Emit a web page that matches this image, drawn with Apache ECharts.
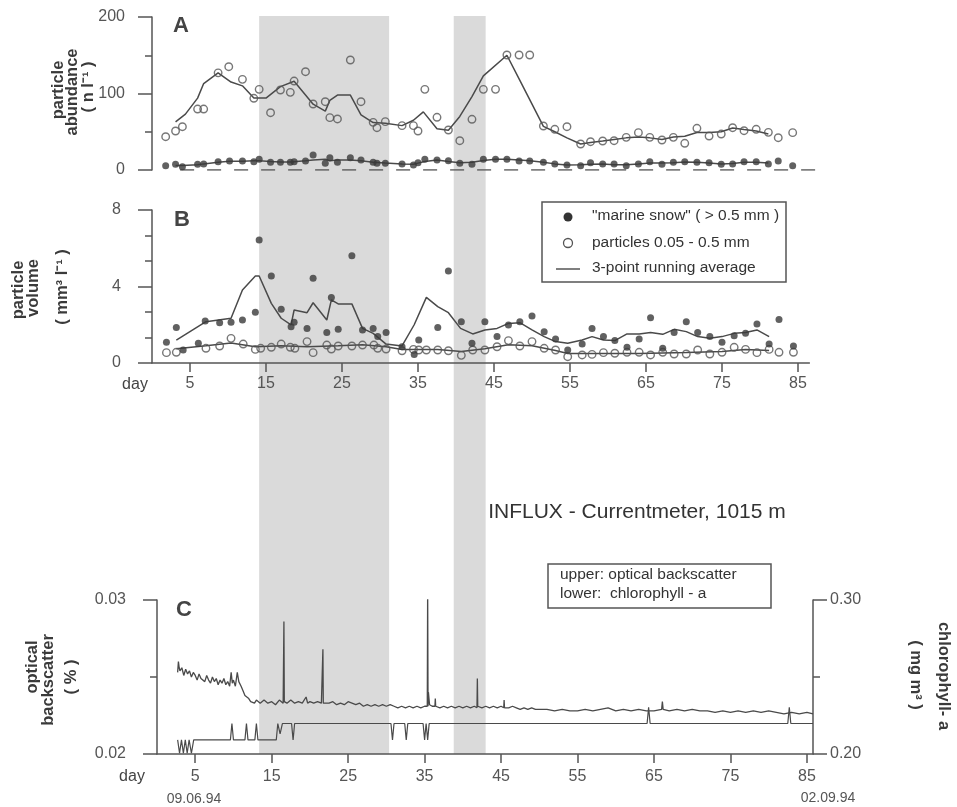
<!DOCTYPE html>
<html>
<head>
<meta charset="utf-8">
<script src="https://cdn.jsdelivr.net/npm/echarts@6/dist/echarts.min.js"></script>
<style>
html,body{margin:0;padding:0;background:#fff;}
#chart{width:957px;height:807px;}
</style>
</head>
<body>
<div id="chart"></div>
<script>
// ---------- DATA ----------
const xTickDays = [5, 15, 25, 35, 45, 55, 65, 75, 85];
const shadedPeriods = [[14.1, 31.2], [39.7, 43.9]];
const zeroLine = [[3.7, 0], [87.9, 0]];

// Panel A: particle abundance (n l-1)
const aParticles = [[1.8,43.5],[3.1,51],[4.0,56.6],[6.0,79.7],[6.8,79.7],[8.7,127],[10.1,135],[11.9,118.5],[13.4,93.7],[14.1,105.4],[15.6,74.9],[16.9,104.6],[18.2,101.5],[18.7,116.3],[20.2,128.5],[21.2,86.3],[22.8,89.3],[23.4,68.4],[24.4,66.7],[26.1,143.8],[27.5,89.3],[29.1,62.3],[29.6,55.3],[30.7,63.2],[32.9,58],[34.4,58],[35.0,51],[35.9,105.4],[37.5,68.9],[39.0,52.3],[40.5,38.3],[42.1,66.3],[43.6,105.4],[45.2,105.4],[46.7,150.3],[48.3,150.3],[49.7,150.3],[51.5,57.5],[53.0,53.2],[54.6,56.6],[56.4,34],[57.7,37],[59.3,37.9],[60.8,38.3],[62.4,42.7],[64.0,48.8],[65.5,42.7],[67.1,39.2],[68.6,42.7],[70.1,34.9],[71.7,54.5],[73.3,44.4],[74.9,47],[76.4,55.3],[77.9,51.4],[79.5,53.2],[81.1,49.2],[82.4,42.2],[84.3,48.8]];
const aSnow = [[1.8,5.7],[3.1,7.4],[4.0,4.4],[6.0,7.4],[6.8,7.8],[8.7,10.9],[10.2,11.8],[11.9,11.8],[13.4,10.9],[14.1,13.9],[15.6,10],[16.9,10],[18.2,10],[18.7,10.9],[20.2,11.8],[21.2,19.6],[22.8,8.7],[23.4,16],[24.4,10],[26.1,16],[27.5,13],[29.1,10],[29.6,8.7],[30.7,8.7],[32.9,7.8],[34.4,6.5],[35.0,9.6],[35.9,13.9],[37.5,13],[39.0,12.2],[40.5,8.7],[42.1,7.4],[43.6,13.9],[45.2,13.9],[46.7,13.9],[48.3,11.8],[49.7,11.8],[51.5,10],[53.0,7.8],[54.6,6.5],[56.4,5.7],[57.7,9.6],[59.3,7.8],[60.8,7.8],[62.4,5.7],[64.0,7.8],[65.5,10.9],[67.1,7.4],[68.6,10],[70.1,10.9],[71.7,10],[73.3,9.6],[74.9,7.4],[76.4,7.8],[77.9,10.9],[79.5,10.9],[81.1,7.8],[82.4,11.8],[84.3,5.7]];
const aParticlesAvg = [[3.1,63],[4.4,73],[6.0,94],[6.8,113],[8.7,127],[10.4,115],[11.9,110],[13.4,94],[15.0,94],[16.9,109],[18.7,116],[20.2,98],[21.2,86],[22.8,77],[23.4,91],[24.4,98],[26.1,98],[27.5,72],[29.1,62],[30.7,61],[32.9,58],[34.4,65],[35.7,76],[37.5,54],[39.0,52],[40.5,70],[42.1,96],[43.6,123],[46.7,150],[48.3,119],[49.7,92],[51.5,57],[53.0,50],[54.6,42],[56.4,34],[57.7,36],[59.3,38],[60.8,40],[62.4,42],[64.0,43],[65.5,42],[67.1,40],[68.6,43],[70.1,44],[71.7,49],[73.3,49],[74.9,50],[76.4,55],[77.9,53],[79.5,51],[81.1,47]];
const aSnowAvg = [[3.1,6],[4.0,6],[6.0,7],[6.8,8],[8.7,10],[10.2,11.5],[11.9,11.5],[13.4,12],[14.1,12],[15.6,11],[16.9,10.5],[18.2,10.5],[20.2,12],[21.2,13],[22.8,14],[23.4,12],[24.4,13],[26.1,13],[27.5,12],[29.1,10],[30.7,9],[32.9,8],[34.4,7.5],[35.0,9],[35.9,11],[37.5,13],[39.0,11],[40.5,9.5],[42.1,10],[43.6,12.5],[45.2,14],[46.7,14],[48.3,13],[49.7,12],[51.5,10],[53.0,8],[54.6,6.5],[56.4,7],[57.7,7.5],[59.3,8],[60.8,7],[62.4,7],[64.0,8],[65.5,9],[67.1,9],[68.6,9.5],[70.1,10.5],[71.7,10],[73.3,9],[74.9,8],[76.4,8.5],[77.9,10],[79.5,10],[81.1,9]];

// Panel B: particle volume (mm3 l-1)
const bSnow = [[1.9,1.08],[3.2,1.86],[4.1,0.68],[6.1,1.03],[7.0,2.2],[8.9,2.11],[10.4,2.13],[11.9,2.25],[13.6,2.65],[14.1,6.43],[15.7,4.55],[17.0,2.81],[18.3,1.9],[18.7,2.13],[20.4,1.81],[21.2,4.43],[23.0,1.6],[23.6,3.43],[24.5,1.76],[26.3,5.61],[27.7,1.73],[29.1,1.81],[29.7,1.38],[30.8,1.6],[32.9,0.85],[34.5,0.45],[35.1,1.2],[37.6,1.86],[39.0,4.81],[40.7,2.16],[42.1,1.03],[43.8,2.16],[45.4,1.38],[46.9,1.99],[48.4,2.16],[50.0,2.46],[51.6,1.64],[53.1,1.25],[54.7,0.68],[56.6,0.99],[57.9,1.81],[59.4,1.38],[60.9,1.17],[62.5,0.82],[64.1,1.25],[65.6,2.37],[67.2,0.77],[68.7,1.6],[70.3,2.16],[71.8,1.6],[73.4,1.38],[75.0,1.08],[76.6,1.43],[78.1,1.55],[79.6,2.04],[81.2,0.99],[82.5,2.28],[84.4,0.89]];
const bParticles = [[1.9,0.54],[3.2,0.56],[7.1,0.77],[8.9,0.89],[10.4,1.29],[12.0,0.99],[13.6,0.71],[14.3,0.77],[15.7,0.82],[17.0,0.99],[18.2,0.82],[18.8,0.77],[20.4,1.12],[21.2,0.54],[23.0,0.94],[23.6,0.73],[24.5,0.89],[26.3,0.89],[27.7,0.94],[29.2,0.94],[29.7,0.77],[30.8,0.73],[32.9,0.64],[34.4,0.71],[35.1,0.68],[36.1,0.68],[37.6,0.68],[39.0,0.64],[40.7,0.4],[42.2,0.68],[43.8,0.68],[45.4,0.85],[46.9,1.17],[48.4,0.89],[50.0,1.12],[51.6,0.77],[53.1,0.68],[54.7,0.33],[56.6,0.42],[57.9,0.45],[59.4,0.54],[60.9,0.51],[62.5,0.56],[64.1,0.56],[65.6,0.42],[67.2,0.56],[68.7,0.47],[70.3,0.47],[71.8,0.68],[73.4,0.47],[75.0,0.56],[76.6,0.82],[78.1,0.71],[79.6,0.54],[81.2,0.71],[82.5,0.56],[84.4,0.56]];
const bSnowAvg = [[3.2,1.2],[7.1,2.16],[10.4,2.34],[11.9,3.82],[13.6,4.55],[14.1,4.55],[15.7,3.12],[17.0,2.34],[18.3,1.99],[18.7,2.77],[20.4,2.63],[21.2,3.15],[23.0,2.25],[23.6,3.3],[24.5,3.09],[26.3,3.09],[27.7,1.81],[29.1,1.55],[30.8,0.99],[32.9,0.89],[34.5,2.0],[36.1,3.43],[37.6,2.95],[39.0,2.63],[40.6,1.81],[42.2,1.52],[43.8,1.73],[45.4,1.81],[46.9,2.07],[48.4,2.11],[50.0,1.73],[51.6,1.38],[53.1,1.12],[54.7,1.03],[56.6,1.2],[57.9,1.38],[59.4,1.2],[60.9,1.17],[62.5,1.52],[64.1,1.52],[65.6,1.59],[67.2,1.5],[68.7,1.76],[70.3,1.64],[71.8,1.38],[73.4,1.29],[75.0,1.38],[76.6,1.55],[78.1,1.59],[79.6,1.73],[81.2,1.38]];
const bParticlesAvg = [[3.2,0.75],[7.1,0.9],[10.4,1.05],[13.6,0.85],[17.0,0.9],[20.4,0.85],[24.5,0.9],[27.7,0.95],[30.8,0.85],[32.9,0.7],[37.6,0.7],[40.7,0.6],[43.8,0.75],[46.9,0.95],[50.0,0.9],[53.1,0.65],[54.7,0.5],[59.4,0.5],[64.1,0.5],[70.3,0.55],[75.0,0.6],[78.1,0.7],[81.2,0.65]];

// Panel C: optical backscatter (%) and chlorophyll-a (mg m3)
const backscatter = [[2.7,0.0253],[2.8,0.0260],[2.9,0.0256],[3.0,0.0254],[3.25,0.0256],[3.5,0.0251],[3.75,0.0255],[4.0,0.0252],[4.25,0.0254],[4.5,0.0250],[4.75,0.0253],[5.0,0.0251],[5.25,0.0248],[5.5,0.0252],[5.75,0.0249],[6.0,0.0250],[6.25,0.0247],[6.5,0.0251],[6.75,0.0248],[7.0,0.0246],[7.25,0.0250],[7.5,0.0247],[7.75,0.0249],[8.0,0.0245],[8.25,0.0248],[8.5,0.0246],[8.75,0.0249],[9.0,0.0245],[9.25,0.0247],[9.5,0.0244],[9.7,0.0253],[9.85,0.0246],[10.0,0.0248],[10.25,0.0244],[10.5,0.0253],[10.7,0.0247],[11.0,0.0244],[11.25,0.0241],[11.5,0.0238],[11.75,0.0237],[12.0,0.0236],[12.25,0.0234],[12.5,0.0235],[12.75,0.0233],[13.0,0.0235],[13.5,0.0233],[14.0,0.0235],[14.5,0.0233],[15.0,0.0234],[15.5,0.0232],[16.0,0.0235],[16.5,0.0233],[16.55,0.0234],[16.6,0.0286],[16.65,0.0234],[17.0,0.0233],[17.5,0.0235],[18.0,0.0233],[18.5,0.0234],[19.0,0.0233],[19.5,0.0237],[19.7,0.0233],[20.0,0.0234],[20.5,0.0233],[21.0,0.0234],[21.5,0.0233],[21.65,0.0233],[21.7,0.0268],[21.75,0.0233],[22.0,0.0234],[22.5,0.0233],[23.0,0.0234],[23.5,0.0232],[24.0,0.0233],[24.5,0.0232],[25.0,0.0234],[25.5,0.0233],[26.0,0.0232],[26.5,0.0233],[27.0,0.0231],[27.5,0.0232],[28.0,0.0231],[28.5,0.0232],[29.0,0.0231],[29.5,0.0232],[30.0,0.0231],[30.5,0.0232],[31.0,0.0231],[31.5,0.0230],[32.0,0.0231],[32.5,0.0230],[33.0,0.0231],[33.5,0.0230],[34.0,0.0231],[34.5,0.0230],[35.0,0.0231],[35.35,0.0231],[35.4,0.0308],[35.45,0.0231],[35.5,0.0240],[35.65,0.0232],[36.0,0.0231],[36.35,0.0231],[36.4,0.0236],[36.45,0.0231],[37.0,0.0230],[37.5,0.0231],[38.0,0.0230],[38.5,0.0231],[39.0,0.0230],[39.5,0.0231],[40.0,0.0230],[40.5,0.0231],[41.0,0.0230],[41.5,0.0231],[41.85,0.0230],[41.9,0.0249],[41.95,0.0231],[42.5,0.0230],[43.0,0.0231],[43.5,0.0230],[44.0,0.0231],[44.5,0.0230],[45.0,0.0231],[45.35,0.0230],[45.4,0.0235],[45.45,0.0230],[46.0,0.0230],[46.5,0.0231],[47.0,0.0230],[47.5,0.0229],[48.0,0.0230],[48.5,0.0229],[49.0,0.0230],[49.5,0.0229],[50.0,0.0229],[51.0,0.0229],[52.0,0.0228],[53.0,0.0229],[54.0,0.0228],[55.0,0.0228],[56.0,0.0229],[57.0,0.0228],[58.0,0.0229],[59.0,0.0230],[60.0,0.0228],[61.0,0.0229],[62.0,0.0228],[63.0,0.0229],[64.0,0.0228],[65.0,0.0228],[66.0,0.0229],[66.1,0.0234],[66.2,0.0229],[67.0,0.0228],[68.0,0.0229],[69.0,0.0228],[70.0,0.0229],[71.0,0.0228],[72.0,0.0228],[73.0,0.0227],[74.0,0.0228],[75.0,0.0227],[76.0,0.0228],[77.0,0.0227],[78.0,0.0228],[79.0,0.0227],[80.0,0.0228],[81.0,0.0227],[82.0,0.0226],[83.0,0.0227],[84.0,0.0226],[85.0,0.0227],[85.8,0.0226]];
const chlorophyll = [[2.7,0.2092],[2.95,0.2005],[3.2,0.2092],[3.45,0.2005],[3.7,0.2092],[3.95,0.2005],[4.2,0.2092],[4.5,0.2005],[4.8,0.2092],[9.6,0.2092],[9.8,0.2198],[10.0,0.2092],[11.5,0.2092],[11.7,0.2198],[11.9,0.2092],[12.8,0.2092],[13.0,0.2198],[13.2,0.2092],[15.6,0.2092],[15.8,0.2198],[16.1,0.2130],[16.4,0.2198],[17.6,0.2198],[17.8,0.2092],[18.0,0.2198],[30.6,0.2198],[30.8,0.2092],[31.0,0.2198],[32.4,0.2198],[32.6,0.2092],[32.8,0.2198],[34.8,0.2198],[35.0,0.2092],[35.2,0.2198],[35.4,0.2092],[35.6,0.2198],[64.1,0.2198],[64.3,0.2303],[64.5,0.2198],[82.5,0.2198],[82.7,0.2303],[82.9,0.2198],[85.8,0.2198]];

// ---------- CHART ----------
const FONT = "'Liberation Sans', Arial, sans-serif";
const AX = '#555';
const chart = echarts.init(document.getElementById('chart'), null, {renderer: 'canvas'});

function yAx(gi, min, max, interval, split, margin, extra) {
  return Object.assign({
    gridIndex: gi, type: 'value', min: min, max: max, interval: interval, z: 3,
    axisLine: {show: true, onZero: false, lineStyle: {color: AX, width: 1.5}},
    axisTick: {show: true, inside: false, length: 14, lineStyle: {color: AX, width: 1.5}},
    minorTick: {show: true, splitNumber: split, length: 7, lineStyle: {color: AX, width: 1.5}},
    axisLabel: {margin: margin, fontSize: 16, color: AX, fontFamily: FONT},
    splitLine: {show: false}, minorSplitLine: {show: false}
  }, extra || {});
}
function xAx(gi, max, visible, margin) {
  return {
    gridIndex: gi, type: 'value', min: 0, max: max, z: 3,
    axisLine: {show: visible, onZero: false, lineStyle: {color: AX, width: 1.5}},
    axisTick: {show: visible, customValues: xTickDays, length: 9, lineStyle: {color: AX, width: 1.5}},
    axisLabel: {show: visible, customValues: xTickDays, margin: margin, fontSize: 16, color: AX, fontFamily: FONT},
    splitLine: {show: false}
  };
}
const line = (name, xi, yi, data, w) => ({
  name: name, type: 'line', xAxisIndex: xi, yAxisIndex: yi, data: data, showSymbol: false, symbol: 'none',
  lineStyle: {color: '#4a4a4a', width: w || 1.5}, z: 4, silent: true, animation: false
});
const dots = (xi, yi, data) => ({
  type: 'scatter', xAxisIndex: xi, yAxisIndex: yi, data: data, symbol: 'circle', symbolSize: 7,
  itemStyle: {color: '#3a3a3a'}, z: 5, silent: true, animation: false
});
const rings = (xi, yi, data) => ({
  type: 'scatter', xAxisIndex: xi, yAxisIndex: yi, data: data, symbol: 'circle', symbolSize: 7.5,
  itemStyle: {color: 'rgba(0,0,0,0)', borderColor: '#555', borderWidth: 1.4}, z: 5, silent: true, animation: false
});

const txt = (text, x, y, opt) => ({
  type: 'text', x: x, y: y, z: 20, rotation: (opt && opt.rot) || 0,
  style: Object.assign({text: text, fill: '#444', font: '15px ' + FONT, align: 'center', verticalAlign: 'middle'}, (opt && opt.style) || {})
});
const rot = Math.PI / 2;
const bold16 = {font: 'bold 16.5px ' + FONT, fill: '#3a3a3a'};
const legFont = {font: '15.5px ' + FONT, fill: '#333', align: 'left'};

const option = {
  animation: false,
  backgroundColor: '#fff',
  grid: [
    {left: 152, top: 17, width: 668.8, height: 153},
    {left: 152, top: 210, width: 657.4, height: 153},
    {left: 157, top: 600, width: 656, height: 154},
    {left: 152, top: 16, width: 657.4, height: 738}
  ],
  xAxis: [xAx(0, 88, false, 14), xAx(1, 86.5, true, 13), xAx(2, 85.8, true, 15), xAx(3, 86.5, false, 14)],
  yAxis: [
    yAx(0, 0, 200, 100, 2, 27),
    yAx(1, 0, 8, 4, 3, 31),
    yAx(2, 0.02, 0.03, 0.01, 2, 31, {axisLabel: {margin: 31, fontSize: 16, color: AX, fontFamily: FONT, formatter: v => v.toFixed(2)}}),
    yAx(2, 0.2, 0.3, 0.1, 2, 17, {position: 'right', axisLabel: {margin: 17, fontSize: 16, color: AX, fontFamily: FONT, formatter: v => v.toFixed(2)}}),
    {gridIndex: 3, type: 'value', min: 0, max: 1, show: false}
  ],
  series: [
    {type: 'line', xAxisIndex: 3, yAxisIndex: 4, data: [[0, 0]], symbol: 'none', lineStyle: {width: 0}, z: 1, silent: true,
     markArea: {silent: true, itemStyle: {color: '#dadada'},
       data: shadedPeriods.map(p => [{xAxis: p[0]}, {xAxis: p[1]}])}},
    {type: 'line', xAxisIndex: 0, yAxisIndex: 0, data: zeroLine, symbol: 'none', z: 4, silent: true,
     lineStyle: {color: '#555', width: 1.5, type: [14, 13]}},
    line('3-point running average', 0, 0, aParticlesAvg),
    line('3-point running average', 0, 0, aSnowAvg),
    rings(0, 0, aParticles),
    dots(0, 0, aSnow),
    line('3-point running average', 1, 1, bSnowAvg),
    line('3-point running average', 1, 1, bParticlesAvg),
    rings(1, 1, bParticles),
    dots(1, 1, bSnow),
    line('optical backscatter', 2, 2, backscatter, 1.3),
    line('chlorophyll - a', 2, 3, chlorophyll, 1.2)
  ],
  graphic: [
    txt('A', 181, 26, {style: {font: 'bold 22px ' + FONT, fill: '#444'}}),
    txt('B', 182, 220, {style: {font: 'bold 22px ' + FONT, fill: '#444'}}),
    txt('C', 184, 610, {style: {font: 'bold 22px ' + FONT, fill: '#444'}}),
    txt('particle', 58, 90, {rot: rot, style: bold16}),
    txt('abundance', 72, 92, {rot: rot, style: bold16}),
    txt('( n l\u207B\u00B9 )', 88, 87, {rot: rot, style: bold16}),
    txt('particle', 18, 290, {rot: rot, style: bold16}),
    txt('volume', 33, 288, {rot: rot, style: bold16}),
    txt('( mm\u00B3 l\u207B\u00B9 )', 62, 287, {rot: rot, style: bold16}),
    txt('optical', 32, 667, {rot: rot, style: bold16}),
    txt('backscatter', 48, 680, {rot: rot, style: bold16}),
    txt('( % )', 71, 677, {rot: rot, style: bold16}),
    txt('chlorophyll- a', 944, 676, {rot: -rot, style: bold16}),
    txt('( mg m\u00B3 )', 916, 675, {rot: -rot, style: bold16}),
    txt('day', 135, 385, {style: {font: '16px ' + FONT, fill: '#444'}}),
    txt('day', 132, 777, {style: {font: '16px ' + FONT, fill: '#444'}}),
    txt('09.06.94', 194, 799, {style: {font: '14px ' + FONT, fill: '#555'}}),
    txt('02.09.94', 828, 798, {style: {font: '14px ' + FONT, fill: '#555'}}),
    txt('INFLUX - Currentmeter, 1015 m', 637, 512, {style: {font: '21px ' + FONT, fill: '#333'}}),
    {type: 'rect', z: 19, shape: {x: 542, y: 202, width: 244, height: 80}, style: {fill: '#fff', stroke: '#555', lineWidth: 1.5}},
    {type: 'circle', z: 20, shape: {cx: 568, cy: 217, r: 4.5}, style: {fill: '#333'}},
    {type: 'circle', z: 20, shape: {cx: 568, cy: 243, r: 4.5}, style: {fill: '#fff', stroke: '#555', lineWidth: 1.3}},
    {type: 'line', z: 20, shape: {x1: 556, y1: 269, x2: 580, y2: 269}, style: {stroke: '#555', lineWidth: 1.5}},
    txt('"marine snow" ( > 0.5 mm )', 592, 216, {style: legFont}),
    txt('particles 0.05 - 0.5 mm', 592, 243, {style: legFont}),
    txt('3-point running average', 592, 268, {style: legFont}),
    {type: 'rect', z: 19, shape: {x: 548, y: 564, width: 223, height: 44}, style: {fill: '#fff', stroke: '#555', lineWidth: 1.5}},
    txt('upper: optical backscatter', 560, 575, {style: legFont}),
    txt('lower:  chlorophyll - a', 560, 594, {style: legFont})
  ]
};
chart.setOption(option);
</script>
</body>
</html>
